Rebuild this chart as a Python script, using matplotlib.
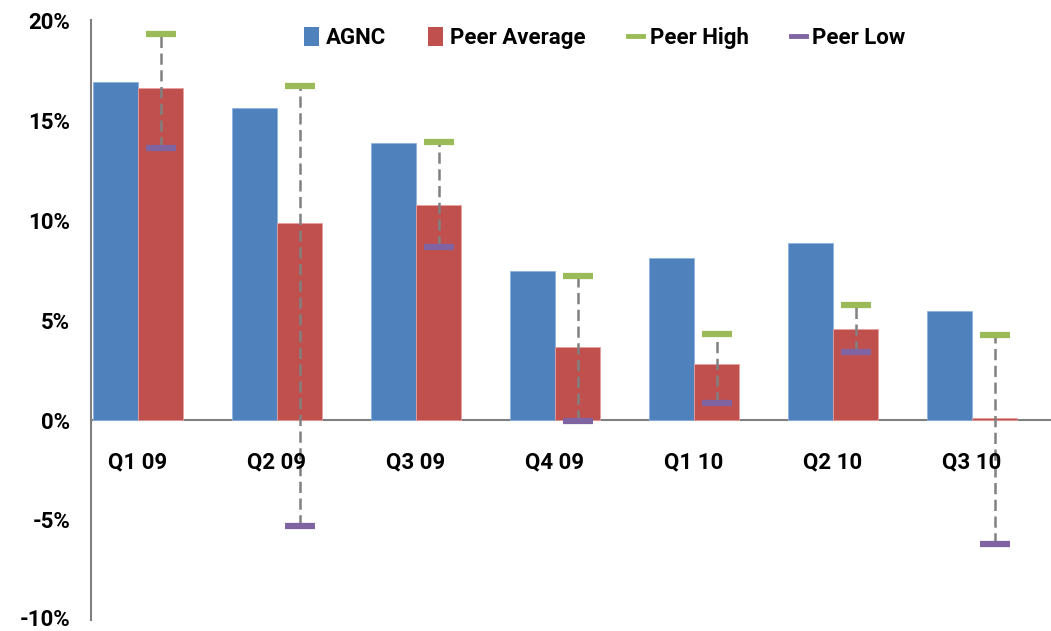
import matplotlib
matplotlib.use("Agg")
import matplotlib.pyplot as plt
from matplotlib.lines import Line2D
from matplotlib.patches import Patch
import matplotlib.transforms as mtransforms
import numpy as np

quarters = ["Q1 09", "Q2 09", "Q3 09", "Q4 09", "Q1 10", "Q2 10", "Q3 10"]
agnc = [16.9, 15.6, 13.85, 7.45, 8.1, 8.85, 5.45]
peer_avg = [16.6, 9.85, 10.75, 3.65, 2.8, 4.55, 0.1]
peer_high = [19.3, 16.7, 13.9, 7.2, 4.3, 5.75, 4.25]
peer_low = [13.6, -5.3, 8.65, -0.05, 0.85, 3.4, -6.2]

BLUE = "#4F81BD"
RED = "#C0504D"
GREEN = "#9BBB59"
PURPLE = "#8064A2"
GRAY = "#808080"

plt.rcParams["font.family"] = ["Roboto", "DejaVu Sans"]
plt.rcParams["font.weight"] = "bold"

fig = plt.figure(figsize=(10.51, 6.31), dpi=100)
W, H = 1051, 631
ax = fig.add_axes([91 / W, (H - 620) / H, (1064 - 91) / W, 600 / H])

x = np.arange(len(quarters))
bw = 0.325

ax.bar(x - bw, agnc, width=bw, color=BLUE, edgecolor="#8EB4E3", linewidth=0.6,
       zorder=2)
ax.bar(x, peer_avg, width=bw, color=RED, edgecolor="#E6A09E", linewidth=0.6,
       zorder=2)

ax.vlines(x, peer_low, peer_high, colors=GRAY, linewidth=1.8,
          linestyles=(0, (4.5, 2.2)), zorder=3)
ax.plot(x, peer_high, linestyle="none", marker="_", markersize=22,
        markeredgewidth=4.5, color=GREEN, zorder=4)
ax.plot(x, peer_low, linestyle="none", marker="_", markersize=22,
        markeredgewidth=4.5, color=PURPLE, zorder=4)

ax.axhline(0, color=GRAY, linewidth=1.5, zorder=1)

ax.set_xlim(-0.5, len(quarters) - 0.5)
ax.set_ylim(-10, 20)
ax.set_yticks(range(-10, 21, 5))
ax.set_yticklabels([f"{v}%" for v in range(-10, 21, 5)])
ax.set_xticks([])

for i, q in enumerate(quarters):
    ax.text(i - bw / 2, -2.1, q, ha="center", va="center", fontsize=16,
            fontweight="bold")

for s in ["top", "right", "bottom"]:
    ax.spines[s].set_visible(False)
ax.spines["left"].set_color(GRAY)
ax.spines["left"].set_linewidth(1.5)
ax.tick_params(axis="y", length=0, pad=15, labelsize=16)

# the bottom label sits on the figure edge; lift it a touch so it isn't clipped
lbl = ax.get_yticklabels()[0]
lbl.set_transform(lbl.get_transform() +
                  mtransforms.ScaledTranslation(0, 3 / 100, fig.dpi_scale_trans))

handles = [
    Patch(facecolor=BLUE, label="AGNC"),
    Patch(facecolor=RED, label="Peer Average"),
    Line2D([], [], color=GREEN, linewidth=3.5, label="Peer High"),
    Line2D([], [], color=PURPLE, linewidth=3.5, label="Peer Low"),
]
leg = ax.legend(handles=handles, loc="center",
                bbox_to_anchor=(0.528, (620 - 38) / 600), ncol=4,
                frameon=False, fontsize=16, handlelength=0.68, handleheight=0.9,
                columnspacing=1.9, handletextpad=0.3)

fig.savefig("out.png", dpi=100)
